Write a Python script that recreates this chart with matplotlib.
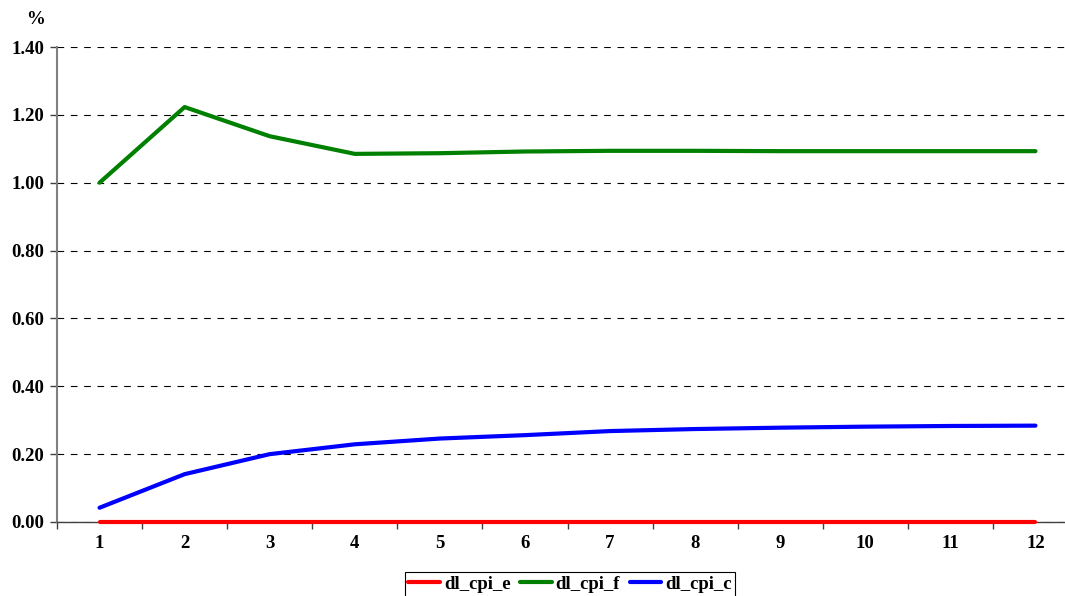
import matplotlib
matplotlib.use("Agg")
import matplotlib.pyplot as plt
from matplotlib.ticker import FixedLocator, FormatStrFormatter

plt.rcParams['font.family'] = ['Liberation Serif', 'DejaVu Serif']
plt.rcParams['font.weight'] = 'bold'

periods = [1, 2, 3, 4, 5, 6, 7, 8, 9, 10, 11, 12]
dl_cpi_e = [0.0, 0.0, 0.0, 0.0, 0.0, 0.0, 0.0, 0.0, 0.0, 0.0, 0.0, 0.0]
dl_cpi_f = [1.000, 1.223, 1.137, 1.085, 1.087, 1.092, 1.094, 1.094, 1.093, 1.093, 1.093, 1.093]
dl_cpi_c = [0.042, 0.141, 0.200, 0.229, 0.246, 0.256, 0.268, 0.274, 0.278, 0.281, 0.283, 0.284]
y_ticks = [0.0, 0.2, 0.4, 0.6, 0.8, 1.0, 1.2, 1.4]

FS = 13.5
W, H = 1065, 596
fig = plt.figure(figsize=(W / 100, H / 100), dpi=100)
left, right, top, bottom = 57, 1078, 47, 522
ax = fig.add_axes([left / W, 1 - bottom / H, (right - left) / W, (bottom - top) / H])

ax.set_xlim(0.5, 12.5)
ax.set_ylim(0, 1.4)

ax.plot(periods, dl_cpi_e, color='#FF0000', lw=3.0, label='dl_cpi_e', zorder=4, clip_on=False, solid_capstyle='round')
ax.plot(periods, dl_cpi_f, color='#008000', lw=3.0, label='dl_cpi_f', zorder=4, clip_on=False, solid_capstyle='round')
ax.plot(periods, dl_cpi_c, color='#0000FF', lw=3.0, label='dl_cpi_c', zorder=4, clip_on=False, solid_capstyle='round')

# grid
ax.yaxis.set_major_locator(FixedLocator(y_ticks))
ax.yaxis.set_major_formatter(FormatStrFormatter('%.2f'))
ax.grid(axis='y', color='black', lw=0.8, linestyle=(0, (6, 6)), zorder=1)
ax.grid(axis='x', visible=False)
ax.set_axisbelow(True)

# spines
for s in ['top', 'right']:
    ax.spines[s].set_visible(False)
ax.spines['left'].set_color('#808080')
ax.spines['left'].set_linewidth(1.5)
ax.spines['bottom'].set_color('#404040')
ax.spines['bottom'].set_linewidth(1.0)

# x ticks: labels at categories, tick marks between
ax.xaxis.set_major_locator(FixedLocator(periods))
ax.xaxis.set_minor_locator(FixedLocator([p + 0.5 for p in [0] + periods]))
ax.tick_params(axis='x', which='major', length=0, pad=9, labelsize=FS)
ax.tick_params(axis='x', which='minor', length=5, width=1.0, color='#404040', direction='out')
ax.tick_params(axis='y', which='major', length=5, width=1.0, color='#404040', direction='out', pad=4, labelsize=FS)
for lab in ax.get_xticklabels() + ax.get_yticklabels():
    lab.set_fontweight('bold')

fig.text(35 / W, 1 - 20 / H, '%', ha='center', va='center', fontsize=FS, fontweight='bold')

leg = fig.legend(loc='upper center', bbox_to_anchor=(570 / W, 1 - 572 / H), ncol=3,
                 frameon=True, fancybox=False, edgecolor='black', framealpha=1,
                 handlelength=1.7, handletextpad=0.2, columnspacing=0.5,
                 borderpad=0.2, borderaxespad=0,
                 prop={'weight': 'bold', 'size': FS})
leg.get_frame().set_linewidth(0.8)

fig.savefig('out.png', dpi=100)
